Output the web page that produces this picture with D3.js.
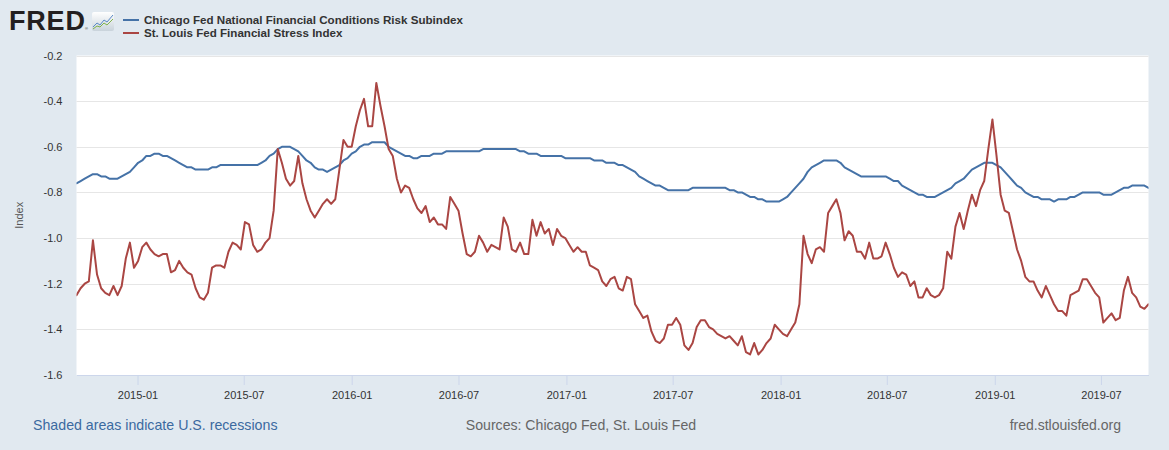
<!DOCTYPE html>
<html>
<head>
<meta charset="utf-8">
<script src="https://cdn.jsdelivr.net/npm/d3@7"></script>
<style>
  html, body { margin: 0; padding: 0; background: #e1e9f0; }
  svg { display: block; font-family: "Liberation Sans", Arial, sans-serif; }
</style>
</head>
<body>
<svg id="chart" width="1169" height="450"></svg>
<script>
// ---- data (weekly observations, first week ending 2014-09-19) ----
const startDate = "2014-09-19";
const endDate = "2019-09-20";
const seriesNames = [
  "Chicago Fed National Financial Conditions Risk Subindex",
  "St. Louis Fed Financial Stress Index"
];
const seriesColors = ["#4572a7", "#aa4643"];

const chicagoRisk = [
  -0.76,-0.75,-0.74,-0.73,-0.72,-0.72,-0.73,-0.73,-0.74,-0.74,
  -0.74,-0.73,-0.72,-0.71,-0.69,-0.67,-0.66,-0.64,-0.64,-0.63,
  -0.63,-0.64,-0.64,-0.65,-0.66,-0.67,-0.68,-0.69,-0.69,-0.70,
  -0.70,-0.70,-0.70,-0.69,-0.69,-0.68,-0.68,-0.68,-0.68,-0.68,
  -0.68,-0.68,-0.68,-0.68,-0.68,-0.67,-0.66,-0.64,-0.63,-0.61,
  -0.60,-0.60,-0.60,-0.61,-0.62,-0.64,-0.66,-0.67,-0.69,-0.70,
  -0.70,-0.71,-0.70,-0.69,-0.68,-0.66,-0.65,-0.63,-0.62,-0.60,
  -0.59,-0.59,-0.58,-0.58,-0.58,-0.58,-0.60,-0.61,-0.62,-0.63,
  -0.64,-0.64,-0.65,-0.65,-0.64,-0.64,-0.64,-0.63,-0.63,-0.63,
  -0.62,-0.62,-0.62,-0.62,-0.62,-0.62,-0.62,-0.62,-0.62,-0.61,
  -0.61,-0.61,-0.61,-0.61,-0.61,-0.61,-0.61,-0.61,-0.62,-0.62,
  -0.63,-0.63,-0.63,-0.64,-0.64,-0.64,-0.64,-0.64,-0.64,-0.65,
  -0.65,-0.65,-0.65,-0.65,-0.65,-0.65,-0.66,-0.66,-0.66,-0.67,
  -0.67,-0.67,-0.68,-0.68,-0.69,-0.70,-0.71,-0.73,-0.74,-0.75,
  -0.76,-0.77,-0.77,-0.78,-0.79,-0.79,-0.79,-0.79,-0.79,-0.79,
  -0.78,-0.78,-0.78,-0.78,-0.78,-0.78,-0.78,-0.78,-0.78,-0.79,
  -0.79,-0.80,-0.80,-0.81,-0.82,-0.82,-0.83,-0.83,-0.84,-0.84,
  -0.84,-0.84,-0.83,-0.82,-0.80,-0.78,-0.76,-0.74,-0.71,-0.69,
  -0.68,-0.67,-0.66,-0.66,-0.66,-0.66,-0.67,-0.69,-0.70,-0.71,
  -0.72,-0.73,-0.73,-0.73,-0.73,-0.73,-0.73,-0.73,-0.74,-0.75,
  -0.75,-0.77,-0.78,-0.79,-0.80,-0.81,-0.81,-0.82,-0.82,-0.82,
  -0.81,-0.80,-0.79,-0.78,-0.76,-0.75,-0.74,-0.72,-0.70,-0.69,
  -0.68,-0.67,-0.67,-0.67,-0.68,-0.69,-0.71,-0.73,-0.75,-0.77,
  -0.78,-0.80,-0.81,-0.82,-0.82,-0.83,-0.83,-0.83,-0.84,-0.83,
  -0.83,-0.83,-0.82,-0.82,-0.81,-0.80,-0.80,-0.80,-0.80,-0.80,
  -0.81,-0.81,-0.81,-0.80,-0.79,-0.78,-0.78,-0.77,-0.77,-0.77,
  -0.77,-0.78
];

const stlStress = [
  -1.25,-1.22,-1.20,-1.19,-1.01,-1.16,-1.22,-1.24,-1.25,-1.21,
  -1.25,-1.21,-1.09,-1.02,-1.13,-1.10,-1.04,-1.02,-1.05,-1.07,
  -1.08,-1.07,-1.07,-1.15,-1.14,-1.10,-1.13,-1.15,-1.16,-1.22,
  -1.26,-1.27,-1.24,-1.13,-1.12,-1.12,-1.13,-1.06,-1.02,-1.03,
  -1.05,-0.93,-0.94,-1.03,-1.06,-1.05,-1.02,-1.00,-0.88,-0.61,
  -0.67,-0.74,-0.77,-0.75,-0.64,-0.76,-0.83,-0.88,-0.91,-0.88,
  -0.85,-0.83,-0.85,-0.83,-0.70,-0.57,-0.60,-0.60,-0.51,-0.44,
  -0.39,-0.51,-0.51,-0.32,-0.42,-0.51,-0.61,-0.64,-0.74,-0.80,
  -0.77,-0.78,-0.83,-0.87,-0.89,-0.86,-0.93,-0.91,-0.94,-0.94,
  -0.96,-0.82,-0.85,-0.88,-0.98,-1.07,-1.08,-1.06,-0.99,-1.02,
  -1.06,-1.03,-1.04,-1.05,-0.91,-0.95,-1.05,-1.06,-1.02,-1.07,
  -1.07,-0.92,-0.99,-0.93,-0.98,-0.96,-1.03,-0.96,-0.99,-1.00,
  -1.03,-1.06,-1.04,-1.06,-1.06,-1.12,-1.13,-1.14,-1.19,-1.21,
  -1.18,-1.17,-1.22,-1.23,-1.17,-1.18,-1.29,-1.32,-1.35,-1.34,
  -1.41,-1.45,-1.46,-1.44,-1.38,-1.38,-1.35,-1.38,-1.47,-1.49,
  -1.46,-1.39,-1.36,-1.36,-1.39,-1.40,-1.42,-1.43,-1.44,-1.43,
  -1.45,-1.47,-1.43,-1.50,-1.51,-1.46,-1.51,-1.49,-1.46,-1.44,
  -1.38,-1.40,-1.42,-1.43,-1.40,-1.37,-1.29,-0.99,-1.07,-1.11,
  -1.05,-1.04,-1.06,-0.89,-0.86,-0.83,-0.89,-1.01,-0.97,-0.99,
  -1.06,-1.06,-1.09,-1.02,-1.09,-1.09,-1.08,-1.02,-1.07,-1.13,
  -1.17,-1.15,-1.16,-1.21,-1.19,-1.26,-1.26,-1.22,-1.25,-1.26,
  -1.25,-1.22,-1.06,-1.09,-0.95,-0.89,-0.96,-0.88,-0.81,-0.86,
  -0.79,-0.75,-0.61,-0.48,-0.64,-0.81,-0.88,-0.89,-0.97,-1.05,
  -1.10,-1.17,-1.19,-1.19,-1.23,-1.26,-1.21,-1.25,-1.29,-1.32,
  -1.32,-1.34,-1.25,-1.24,-1.23,-1.18,-1.18,-1.21,-1.24,-1.26,
  -1.37,-1.35,-1.33,-1.36,-1.35,-1.23,-1.17,-1.24,-1.26,-1.30,
  -1.31,-1.29
];

const xTickLabels = ["2015-01","2015-07","2016-01","2016-07","2017-01","2017-07",
                     "2018-01","2018-07","2019-01","2019-07"];
const yTickValues = [-1.6,-1.4,-1.2,-1.0,-0.8,-0.6,-0.4,-0.2];
const yLabel = "Index";
const footLeft = "Shaded areas indicate U.S. recessions";
const footMid = "Sources: Chicago Fed, St. Louis Fed";
const footRight = "fred.stlouisfed.org";

// ---- layout ----
const W = 1169, H = 450;
const plot = { left: 76.5, right: 1148.5, top: 55.5, bottom: 375 };
const svg = d3.select("#chart");
const parseDay = d3.timeParse("%Y-%m-%d");
const parseMonth = d3.timeParse("%Y-%m");
const t0 = parseDay(startDate);
const dates = chicagoRisk.map((_, i) => d3.timeDay.offset(t0, 7 * i));

const x = d3.scaleTime().domain([t0, parseDay(endDate)]).range([plot.left, plot.right]);
const y = d3.scaleLinear().domain([-1.6, -0.2]).range([plot.bottom, plot.top]);

// background
svg.append("rect").attr("width", W).attr("height", H).attr("fill", "#e1e9f0");
svg.append("rect")
  .attr("x", plot.left).attr("y", plot.top)
  .attr("width", plot.right - plot.left).attr("height", plot.bottom - plot.top)
  .attr("fill", "#ffffff");

// grid lines
svg.append("g").selectAll("line").data(yTickValues.filter(v => v > -1.6)).join("line")
  .attr("x1", plot.left).attr("x2", plot.right)
  .attr("y1", d => Math.round(y(d)) + 0.5).attr("y2", d => Math.round(y(d)) + 0.5)
  .attr("stroke", "#e6e6e6").attr("stroke-width", 1);

// y axis labels
const yAxis = d3.axisLeft(y).tickValues(yTickValues).tickFormat(d => d.toFixed(1)).tickSize(0).tickPadding(0);
const gy = svg.append("g").attr("transform", `translate(${plot.left - 14},0)`).call(yAxis);
gy.select(".domain").remove();
gy.selectAll("text").attr("font-size", 11).attr("fill", "#333")
  .attr("font-family", "Liberation Sans, Arial, sans-serif");

// y label
svg.append("text")
  .attr("transform", `translate(23,${(plot.top + plot.bottom) / 2}) rotate(-90)`)
  .attr("text-anchor", "middle").attr("font-size", 11).attr("fill", "#555")
  .text(yLabel);

// x axis
const xTicks = xTickLabels.map(s => parseMonth(s));
const xAxis = d3.axisBottom(x).tickValues(xTicks).tickFormat(d3.timeFormat("%Y-%m"))
  .tickSize(10).tickPadding(6).tickSizeOuter(0);
const gx = svg.append("g").attr("transform", `translate(0,${plot.bottom})`).call(xAxis);
gx.select(".domain").attr("stroke", "#ccd6eb");
gx.selectAll(".tick line").attr("stroke", "#ccd6eb");
gx.selectAll("text").attr("font-size", 11).attr("fill", "#333")
  .attr("font-family", "Liberation Sans, Arial, sans-serif");

// lines
const line = d3.line().x((d, i) => x(dates[i])).y(d => y(d));
svg.append("clipPath").attr("id", "clip").append("rect")
  .attr("x", plot.left).attr("y", plot.top - 2)
  .attr("width", plot.right - plot.left).attr("height", plot.bottom - plot.top + 4);
[chicagoRisk, stlStress].forEach((s, k) => {
  svg.append("path").datum(s)
    .attr("d", line).attr("fill", "none")
    .attr("stroke", seriesColors[k]).attr("stroke-width", 2)
    .attr("stroke-linejoin", "round").attr("stroke-linecap", "round")
    .attr("clip-path", "url(#clip)");
});

// FRED logo
svg.append("text").attr("x", 9).attr("y", 30)
  .attr("font-size", 27).attr("font-weight", 900).attr("fill", "#231f20")
  .attr("letter-spacing", 0.8).text("FRED");
svg.append("text").attr("x", 85).attr("y", 30).attr("font-size", 4).attr("fill", "#231f20").text("®");
const icon = svg.append("g").attr("transform", "translate(92,12)");
const grad = svg.append("defs").append("linearGradient").attr("id", "ig")
  .attr("x1", 0).attr("y1", 0).attr("x2", 0).attr("y2", 1);
grad.append("stop").attr("offset", 0).attr("stop-color", "#ffffff");
grad.append("stop").attr("offset", 1).attr("stop-color", "#c9d3db");
icon.append("rect").attr("width", 22).attr("height", 19).attr("rx", 2).attr("fill", "url(#ig)");
icon.append("path").attr("d", "M1,15 L5,11 L8,13 L12,8 L15,10 L21,3")
  .attr("fill", "none").attr("stroke", "#5a8ac6").attr("stroke-width", 1);
icon.append("path").attr("d", "M1,17 L5,14 L8,15 L12,11 L15,13 L21,7")
  .attr("fill", "none").attr("stroke", "#7fb24a").attr("stroke-width", 1);

// legend
const legY = [20, 33];
seriesNames.forEach((name, k) => {
  svg.append("line").attr("x1", 123).attr("x2", 139)
    .attr("y1", legY[k]).attr("y2", legY[k])
    .attr("stroke", seriesColors[k]).attr("stroke-width", 2);
  svg.append("text").attr("x", 144).attr("y", legY[k] + 4)
    .attr("font-size", 11.6).attr("font-weight", "bold").attr("fill", "#333")
    .text(name);
});

// footer
svg.append("text").attr("x", 33).attr("y", 430).attr("font-size", 14.2)
  .attr("fill", "#3b6aa0").text(footLeft);
svg.append("text").attr("x", 581).attr("y", 430).attr("font-size", 14.1)
  .attr("text-anchor", "middle").attr("fill", "#666").text(footMid);
svg.append("text").attr("x", 1121).attr("y", 430).attr("font-size", 14)
  .attr("text-anchor", "end").attr("fill", "#666").text(footRight);
</script>
</body>
</html>
